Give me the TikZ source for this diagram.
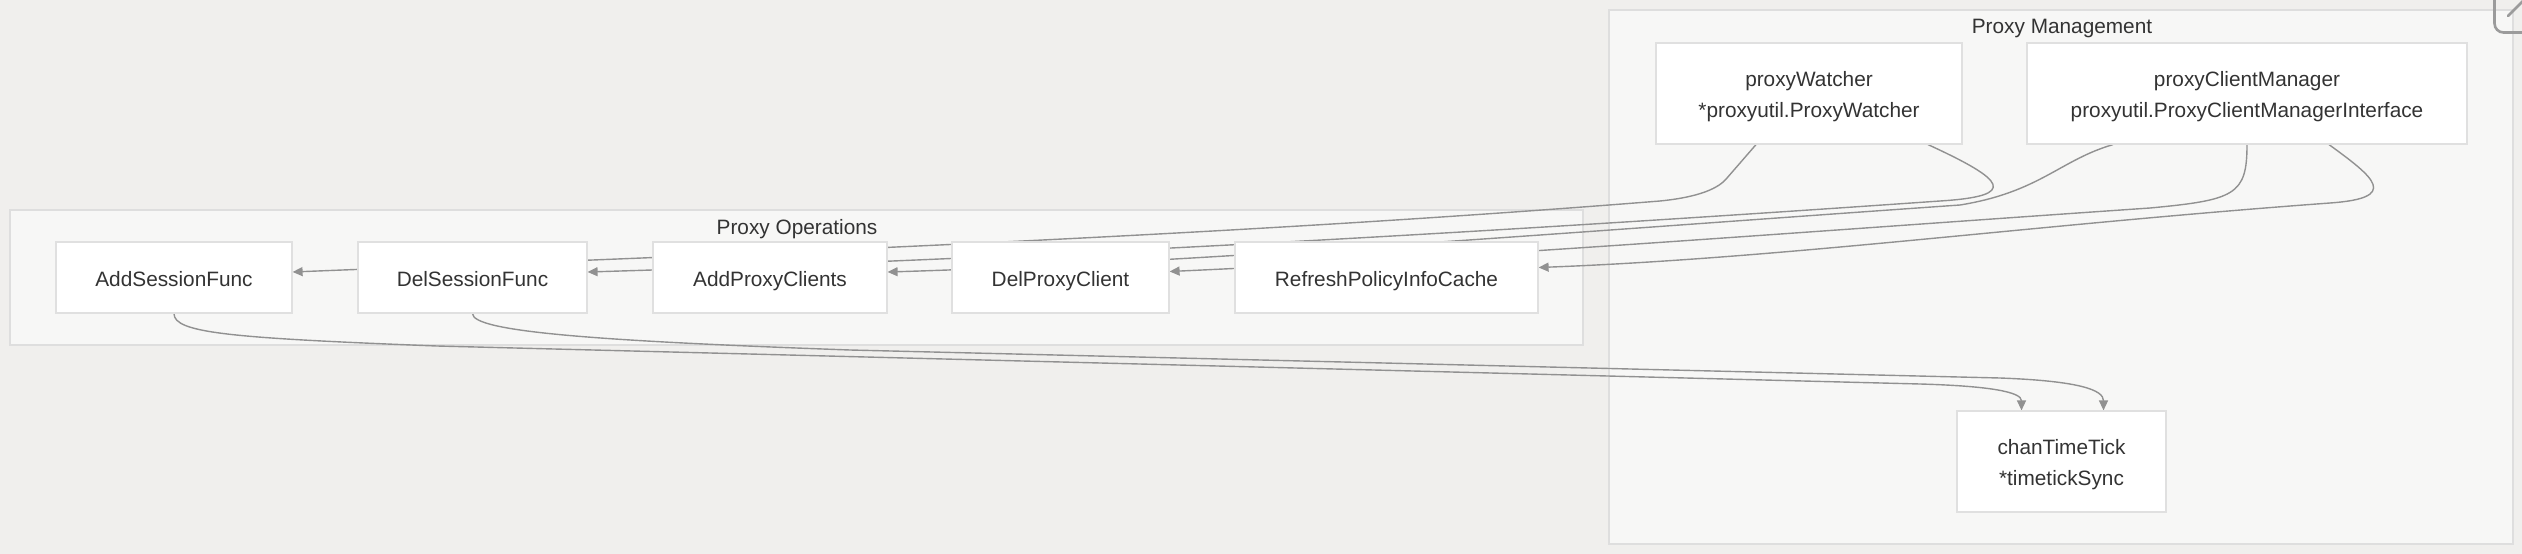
\documentclass[tikz,border=0pt]{standalone}
\usepackage{fontspec}
\setmainfont{Liberation Sans}
\usetikzlibrary{arrows.meta}
\definecolor{bgc}{RGB}{240,239,237}
\definecolor{clfill}{RGB}{247,247,246}
\definecolor{clline}{RGB}{222,222,222}
\definecolor{ndline}{RGB}{224,224,224}
\definecolor{edgec}{RGB}{145,145,145}
\definecolor{txt}{RGB}{51,51,51}
\definecolor{btn}{RGB}{155,155,155}
\pgfdeclarelayer{bg}
\pgfdeclarelayer{edges}
\pgfsetlayers{bg,edges,main}
\begin{document}
\begin{tikzpicture}[x=1pt,y=-1pt,
  box/.style={draw=ndline, fill=white, line width=1.2pt, inner sep=0pt, text=txt,
    font=\fontsize{20.8}{31}\selectfont, align=center},
  onebox/.style={box, minimum height=71pt, text height=17pt, text depth=0pt},
  twobox/.style={box, minimum height=101pt},
  cluster/.style={draw=clline, fill=clfill, line width=1.2pt, inner sep=0pt},
  clabel/.style={text=txt, font=\fontsize{20.8}{25}\selectfont, inner sep=0pt, anchor=base},
  conn/.style={draw=edgec, line width=1.4pt, -{Triangle[length=10pt,width=9pt]}}]
\useasboundingbox (0,0) rectangle (2522,554);
\begin{pgfonlayer}{bg}
  \fill[bgc] (0,0) rectangle (2522,554);
  \node[cluster, minimum width=1573pt, minimum height=135pt] (opsbox) at (796.5,277.5) {};
  \node[cluster, minimum width=904pt, minimum height=534pt] (mgmtbox) at (2061,277) {};
\end{pgfonlayer}
\node[clabel] (opslabel) at (797,234) {Proxy Operations};
\node[clabel] (mgmtlabel) at (2062,33) {Proxy Management};

\node[onebox, minimum width=236pt] (as) at (174,277.5) {AddSessionFunc};
\node[onebox, minimum width=229pt] (ds) at (472.5,277.5) {DelSessionFunc};
\node[onebox, minimum width=234pt] (apc) at (770,277.5) {AddProxyClients};
\node[onebox, minimum width=217pt] (dpc) at (1060.5,277.5) {DelProxyClient};
\node[onebox, minimum width=303pt] (rpc) at (1386.5,277.5) {RefreshPolicyInfoCache};

\node[twobox, minimum width=306pt] (pw) at (1809,93.5) {};
\node[twobox, minimum width=440pt] (pcm) at (2247,93.5) {};
\node[twobox, minimum width=209pt] (ctt) at (2061.5,461.5) {};
\node[box, fill=none, draw=none, yshift=-3.6pt] (pwtext) at (pw.center) {proxyWatcher\\*proxyutil.ProxyWatcher};
\node[box, fill=none, draw=none, yshift=-3.6pt] (pcmtext) at (pcm.center) {proxyClientManager\\proxyutil.ProxyClientManagerInterface};
\node[box, fill=none, draw=none, yshift=-3.6pt] (ctttext) at (ctt.center) {chanTimeTick\\*timetickSync};

\begin{pgfonlayer}{edges}
  \draw[conn] ([xshift=-53pt]pw.south) -- (1727,178) .. controls (1719,188) and (1700,197) .. (1660,201)
     .. controls (1210,237) and (742,254) .. ([yshift=5.5pt]as.east);
  \draw[conn] ([xshift=119pt]pw.south) .. controls (2005,180) and (2020,196) .. (1940,201)
     .. controls (1440,236) and (987,260) .. ([yshift=5.5pt]ds.east);
  \draw[conn] ([xshift=-134pt]pcm.south) .. controls (2060,160) and (2040,192) .. (1960,205)
     .. controls (1560,233) and (1187,263) .. ([yshift=5.5pt]apc.east);
  \draw[conn] (pcm.south) .. controls (2247,195) and (2235,200) .. (2150,208)
     .. controls (1800,232) and (1469,258) .. ([yshift=6pt]dpc.east);
  \draw[conn] ([xshift=82pt]pcm.south) .. controls (2375,178) and (2400,198) .. (2330,203)
     .. controls (2030,225) and (1788,258) .. ([yshift=10pt]rpc.east);
  \draw[conn] (as.south) .. controls (174,333) and (230,338) .. (437,346) -- (1920,384)
     .. controls (1990,386) and (2021.5,392) .. ([xshift=-40pt]ctt.north);
  \draw[conn] (ds.south) .. controls (472.5,332) and (600,341) .. (850,350) -- (2000,378)
     .. controls (2080,381) and (2103.5,390) .. ([xshift=42pt]ctt.north);
\end{pgfonlayer}

\draw[line width=2.6pt, draw=btn, rounded corners=9pt] (2494.5,-10) -- (2494.5,32.5) -- (2545,32.5);
\draw[line width=2.6pt, draw=btn, line cap=round] (2508,16) -- (2525,-1);
\end{tikzpicture}
\end{document}
